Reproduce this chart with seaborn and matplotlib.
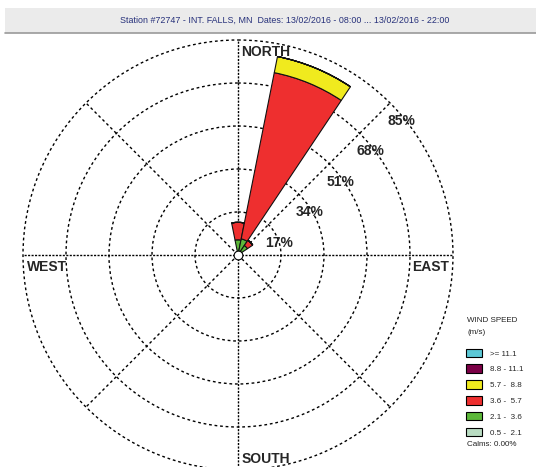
import numpy as np
import matplotlib
matplotlib.use('Agg')
import matplotlib.pyplot as plt
from matplotlib.patches import Patch, Rectangle
import seaborn as sns

# ---- data -------------------------------------------------------------
directions = ['N', 'NNE', 'NE']
dir_deg = [0.0, 22.5, 45.0]
speed_labels = ['>= 11.1', '8.8 - 11.1', '5.7 -  8.8', '3.6 -  5.7', '2.1 -  3.6', '0.5 -  2.1']
speed_colors = ['#5cc8d6', '#7b0046', '#f0ea1e', '#ee2f2f', '#5cb83a', '#b9dcc2']
# frequency (%) per direction, one list per speed class (low -> high)
freq_05_21 = [0.0, 0.0, 0.0]
freq_21_36 = [6.0, 6.5, 4.5]
freq_36_57 = [6.9, 67.0, 2.5]
freq_57_88 = [0.0, 6.5, 0.0]
freq_88_111 = [0.0, 0.0, 0.0]
freq_111 = [0.0, 0.0, 0.0]
ring_values = [17, 34, 51, 68, 85]
ring_labels = ['17%', '34%', '51%', '68%', '85%']
calms = 0.00
title = 'Station #72747 - INT. FALLS, MN  Dates: 13/02/2016 - 08:00 ... 13/02/2016 - 22:00'

sns.set_style('white')
plt.rcParams['font.family'] = ['Liberation Sans', 'DejaVu Sans']

Fig = plt.figure(figsize=(5.36, 4.67), dpi=100)

# title band
Fig.patches.append(Rectangle((5/536, 1-33/467), 1, 25.5/467, transform=Fig.transFigure,
                             facecolor='#ebebeb', edgecolor='none', zorder=0))
Fig.lines.append(plt.Line2D([5/536, 1], [1-33/467, 1-33/467], transform=Fig.transFigure,
                            color='#9a9a9a', lw=1.2))
Fig.text(285/536, 1-20.5/467, title, ha='center', va='center', fontsize=6.4,
         color='#26307a')

ax = Fig.add_axes([23/536, (212-215)/467, 430/536, 430/467], projection='polar')
ax.set_theta_zero_location('N')
ax.set_theta_direction(-1)
ax.set_ylim(0, 85)

width = np.deg2rad(22.5)
theta = np.deg2rad(dir_deg)
series = [freq_05_21, freq_21_36, freq_36_57, freq_57_88, freq_88_111, freq_111]
cols = speed_colors[::-1]
bottom = np.zeros(len(directions))
for vals, c in zip(series, cols):
    vals = np.array(vals)
    ax.bar(theta, vals, width=width, bottom=bottom, color=c, edgecolor='#111111',
           linewidth=0.8, zorder=3)
    bottom = bottom + vals

# calms circle
ax.scatter([0], [calms], s=40, facecolor='white', edgecolor='black', linewidth=0.8,
           zorder=5, clip_on=False)

# grid
ax.set_rgrids(ring_values, labels=['']*len(ring_values))
ax.set_thetagrids(np.arange(0, 360, 45), labels=['']*8)
ax.grid(True)
ax.yaxis.grid(True, color='black', linestyle=(0, (2, 2)), linewidth=1.0)
for gl in ax.yaxis.get_gridlines():
    gl.set_clip_on(False)
for i, gl in enumerate(ax.xaxis.get_gridlines()):
    gl.set_color('black')
    gl.set_linewidth(1.0)
    if i % 2 == 0:
        gl.set_linestyle((0, (1.5, 1.0)))
    else:
        gl.set_linestyle((0, (2, 2)))
ax.spines['polar'].set_visible(False)
ax.set_axisbelow(True)

# ring labels
for v, lab in zip(ring_values, ring_labels):
    ax.annotate(lab, xy=(np.deg2rad(45), v), xytext=(11, -18), textcoords='offset pixels',
                ha='center', va='center', fontsize=10, fontweight='bold', zorder=6)

# compass labels
kw = dict(textcoords='offset pixels', fontsize=10, fontweight='bold', zorder=6)
ax.annotate('NORTH', xy=(0, 85), xytext=(3, -5), ha='left', va='top', **kw)
ax.annotate('WEST', xy=(np.deg2rad(270), 85), xytext=(4, -5), ha='left', va='top', **kw)
ax.annotate('EAST', xy=(np.deg2rad(90), 85), xytext=(-4, -5), ha='right', va='top', **kw)
ax.annotate('SOUTH', xy=(np.deg2rad(180), 85), xytext=(4, 4), ha='left', va='bottom', **kw)

# legend
Fig.text(467/536, 1-320/467, 'WIND SPEED', fontsize=5.8, va='center', color='#222222')
Fig.text(467/536, 1-333/467, '(m/s)', fontsize=5.8, va='center', color='#222222')
handles = [Patch(facecolor=c, edgecolor='black', linewidth=0.8) for c in speed_colors]
leg = Fig.legend(handles, speed_labels, loc='upper left',
                 bbox_to_anchor=(460/536, 1-343/467), frameon=False,
                 fontsize=5.8, handlelength=2.0, handleheight=1.25, labelspacing=0.85,
                 handletextpad=1.0, alignment='left', borderpad=0.2)
Fig.text(467/536, 1-445/467, 'Calms: %.2f%%' % calms, fontsize=5.8, va='center',
         color='#222222')

Fig.savefig('out.png', dpi=100)
